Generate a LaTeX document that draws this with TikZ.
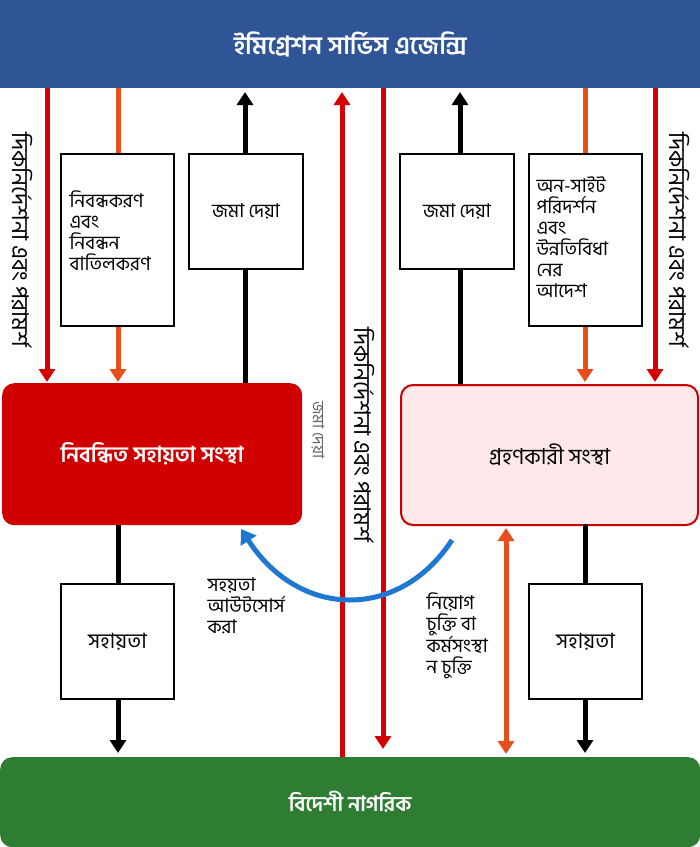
\documentclass[tikz,border=0pt]{standalone}
\usepackage{fontspec}
\setmainfont[Script=Bengali]{Hind Siliguri}
\usetikzlibrary{arrows.meta}
\definecolor{topblue}{HTML}{2F5597}
\definecolor{agred}{HTML}{D00000}
\definecolor{arrred}{HTML}{D50000}
\definecolor{arrorange}{HTML}{E84E1B}
\definecolor{pinkfill}{HTML}{FFE8EA}
\definecolor{green}{HTML}{2E7D32}
\definecolor{curveblue}{HTML}{1E78D2}
\begin{document}
\begin{tikzpicture}[x=1pt,y=-1pt,
  lbl/.style={font=\fontsize{19}{21}\selectfont,align=left},
  wbox/.style={draw=black,line width=2pt,fill=white,inner sep=0pt},
  redarr/.style={draw=arrred,line width=5pt,-{Triangle[length=13pt,width=16pt]}},
  orarr/.style={draw=arrorange,line width=5pt,-{Triangle[length=13pt,width=16pt]}},
  blkarr/.style={draw=black,line width=5pt,-{Triangle[length=13pt,width=16pt]}},
  rot/.style={rotate=-90,inner sep=1pt,font=\fontsize{23}{25}\selectfont}]
\useasboundingbox (0,0) rectangle (700,847);
% top bar
\node[fill=topblue,minimum width=700pt,minimum height=88pt,inner sep=0pt,anchor=north west,text=white,font=\fontsize{25}{28}\selectfont\bfseries] (top) at (0,0) {ইমিগ্রেশন সার্ভিস এজেন্সি};
% bottom bar
\node[fill=green,rounded corners=12pt,minimum width=700pt,minimum height=90pt,inner sep=0pt,anchor=north west,text=white,font=\fontsize{21}{24}\selectfont\bfseries] (bot) at (0,757) {বিদেশী নাগরিক};
% agencies
\node[fill=agred,rounded corners=12pt,minimum width=300pt,minimum height=142pt,inner sep=0pt,anchor=north west,text=white,font=\fontsize{22}{26}\selectfont\bfseries] (reg) at (2,383) {নিবন্ধিত সহায়তা সংস্থা};
\node[fill=pinkfill,draw=agred,line width=2pt,rounded corners=12pt,minimum width=297pt,minimum height=140pt,inner sep=0pt,anchor=north west,font=\fontsize{22}{26}\selectfont] (rec) at (400,384) {গ্রহণকারী সংস্থা};
% coordinates
\coordinate (t47) at (47,88); \coordinate (b47) at (47,382);
\coordinate (t118) at (118,88); \coordinate (b118) at (118,382);
\coordinate (t245) at (245,92); \coordinate (b245) at (245,383);
\coordinate (t342) at (342,92); \coordinate (b342) at (342,757);
\coordinate (t383) at (383,88); \coordinate (b383) at (383,749);
\coordinate (t460) at (460,92); \coordinate (b460) at (460,384);
\coordinate (t585) at (585,88); \coordinate (b585) at (585,382);
\coordinate (t655) at (655,88); \coordinate (b655) at (655,382);
\coordinate (s118) at (118,525); \coordinate (e118) at (118,753);
\coordinate (s585) at (585,524); \coordinate (e585) at (585,753);
\coordinate (s506) at (506,528); \coordinate (e506) at (506,754);
\coordinate (cs) at (452,540); \coordinate (ce) at (241,529);
% arrows
\draw[redarr] (t47) -- (b47);
\draw[orarr] (t118) -- (b118);
\draw[blkarr] (b245) -- (t245);
\draw[redarr] (b342) -- (t342);
\draw[redarr] (t383) -- (b383);
\draw[blkarr] (b460) -- (t460);
\draw[orarr] (t585) -- (b585);
\draw[redarr] (t655) -- (b655);
\draw[blkarr] (s118) -- (e118);
\draw[blkarr] (s585) -- (e585);
\draw[draw=arrorange,line width=5pt,{Triangle[length=13pt,width=16pt]}-{Triangle[length=13pt,width=16pt]}] (s506) -- (e506);
\draw[draw=curveblue,line width=5pt,-{Triangle[length=14pt,width=18pt]}] (cs) .. controls (400,620) and (300,620) .. (ce);
% boxes
\node[wbox,minimum width=113pt,minimum height=172pt,anchor=north west] (b1) at (60,153) {};
\node[lbl,anchor=west] at (66,231) {নিবন্ধকরণ\\এবং\\নিবন্ধন\\বাতিলকরণ};
\node[wbox,minimum width=114pt,minimum height=115pt,anchor=north west,lbl] (b2) at (188,153) {জমা দেয়া};
\node[wbox,minimum width=114pt,minimum height=115pt,anchor=north west,lbl] (b3) at (399,153) {জমা দেয়া};
\node[wbox,minimum width=113pt,minimum height=172pt,anchor=north west] (b4) at (528,153) {};
\node[lbl,anchor=west] at (533,237) {অন-সাইট\\পরিদর্শন\\এবং\\উন্নতিবিধা\\নের\\আদেশ};
\node[wbox,minimum width=113pt,minimum height=115pt,anchor=north west,font=\fontsize{21}{24}\selectfont] (b5) at (60,583) {সহায়তা};
\node[wbox,minimum width=113pt,minimum height=115pt,anchor=north west,font=\fontsize{21}{24}\selectfont] (b6) at (528,583) {সহায়তা};
% labels
\node[rot] (r1) at (22,240) {দিকনির্দেশনা এবং পরামর্শ};
\node[rot] (r2) at (364,435) {দিকনির্দেশনা এবং পরামর্শ};
\node[rot] (r3) at (679,240) {দিকনির্দেশনা এবং পরামর্শ};
\node[rotate=-90,text=gray!80!black,font=\fontsize{16}{18}\selectfont] (r4) at (318,430) {জমা দেয়া};
\node[lbl,anchor=west] (l1) at (204,606) {সহয়তা\\আউটসোর্স\\করা};
\node[lbl,anchor=west] (l2) at (423,636) {নিয়োগ\\চুক্তি বা\\কর্মসংস্থা\\ন চুক্তি};
\end{tikzpicture}
\end{document}
